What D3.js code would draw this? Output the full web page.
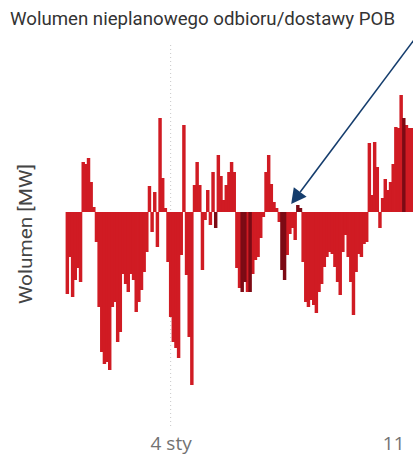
<!DOCTYPE html>
<html>
<head>
<meta charset="utf-8">
<script src="https://cdn.jsdelivr.net/npm/d3@7"></script>
<style>
  html, body { margin: 0; padding: 0; background: #fff; overflow: hidden; }
  svg { display: block; }
</style>
</head>
<body>
<div id="chart"></div>
<script>
// ---------------- DATA ----------------
const chartTitle = "Wolumen nieplanowego odbioru/dostawy POB";
const yLabel = "Wolumen [MW]";

// 2-hour intervals starting at this timestamp
const startTime = new Date(2023, 11, 31, 17, 0);
const stepHours = 2;

// Unplanned offtake/delivery volume [MW], one value per 2-hour interval
const volume = [
  -82, -45, -85, -68, -56, -70,  50,  48,  54,  30,
    5, -30, -95,-140,-152,-150,-158, -95, -90,-130,
 -120, -62, -72, -80, -62, -68,-100, -90, -78, -60,
  -40,  26, -20,  20, -35,  94,  34,   4, -50,-105,
 -130,-136,-146, -43,  87, -63,-125,-173,  27,  50,
   27, -58,  -8,  22, -13,  40, -16,  57,  36,  12,
   27,  40,  50,  40, -56, -76, -80, -70, -80, -80,
  -62, -48, -45, -26,  -5,  40,  57,  28,  10,   4,
  -10, -58, -68, -43, -22, -16, -28,   7,   4, -50,
  -90, -95, -88, -93,-101, -80, -72, -55, -45, -40,
  -42, -55, -70, -83, -40, -23, -45, -70,-103, -60,
  -42, -45, -32, -30,  69,  17,  70,  45, -16,  14,
   33,  22,  30,  48,  85,  84, 117,  94,  87,  84,
   84
];

// intervals belonging to the second (darker) series
const darkIntervals = [56, 66, 67, 69, 81, 82, 87, 88, 127];

// x-axis ticks
const tickDates = [new Date(2024, 0, 4), new Date(2024, 0, 11)];
const tickLabels = ["4 sty", "11"];

// annotation arrow target
const arrowTarget = { time: new Date(2024, 0, 7, 19, 0), value: 8 };

// ---------------- LAYOUT ----------------
const W = 413, H = 459;
const red = "#d01b23", darkRed = "#7c0a14", navy = "#153d6d";

const rows = volume.map((v, i) => ({
  t: d3.timeHour.offset(startTime, i * stepHours),
  t1: d3.timeHour.offset(startTime, (i + 1) * stepHours),
  v,
  dark: darkIntervals.includes(i)
}));

const svg = d3.select("#chart").append("svg")
  .attr("width", W).attr("height", H)
  .style("font-family", "Roboto, 'DejaVu Sans', sans-serif");

svg.append("rect").attr("width", W).attr("height", H).attr("fill", "#fff");

const x = d3.scaleTime()
  .domain([startTime, new Date(2024, 0, 12, 0, 0)])
  .range([66, 425]);

const y = d3.scaleLinear()
  .domain([-180, 120])
  .range([392, 92]);

// dotted gridline at first tick
svg.append("line")
  .attr("x1", x(tickDates[0])).attr("x2", x(tickDates[0]))
  .attr("y1", 45).attr("y2", 428)
  .attr("stroke", "#c8c8c8").attr("stroke-width", 1)
  .attr("stroke-dasharray", "1,3");

// bars (light series first, dark series on top)
const sorted = rows.slice().sort((a, b) => (a.dark === b.dark ? 0 : a.dark ? 1 : -1));
svg.append("g").selectAll("rect").data(sorted).join("rect")
  .attr("x", d => x(d.t) - 0.4)
  .attr("width", d => x(d.t1) - x(d.t) + 0.8)
  .attr("y", d => Math.min(y(d.v), y(0)))
  .attr("height", d => Math.abs(y(d.v) - y(0)))
  .attr("fill", d => d.dark ? darkRed : red);

// x axis
const xAxis = d3.axisBottom(x)
  .tickValues(tickDates)
  .tickFormat((d, i) => tickLabels[i])
  .tickSize(0)
  .tickPadding(0);

const gx = svg.append("g").attr("transform", "translate(0,0)").call(xAxis);
gx.select(".domain").remove();
gx.selectAll("text")
  .attr("y", 450).attr("dy", null)
  .style("font-family", "'Open Sans', Roboto, sans-serif")
  .style("font-size", "19px")
  .attr("fill", "#727272");

// title
svg.append("text")
  .attr("x", 10).attr("y", 25)
  .attr("textLength", 385).attr("lengthAdjust", "spacingAndGlyphs")
  .style("font-size", "18px")
  .attr("fill", "#333")
  .text(chartTitle);

// y label
svg.append("text")
  .attr("transform", "translate(32,234) rotate(-90)")
  .attr("text-anchor", "middle")
  .attr("textLength", 140).attr("lengthAdjust", "spacingAndGlyphs")
  .style("font-size", "18px")
  .attr("fill", "#444")
  .text(yLabel);

// annotation arrow
const tip = [x(arrowTarget.time), y(arrowTarget.value)];
const start = [tip[0] + 125, tip[1] - 167];
const dx = tip[0] - start[0], dy = tip[1] - start[1];
const len = Math.hypot(dx, dy);
const ux = dx / len, uy = dy / len;
const headLen = 15, headHalf = 8;
const base = [tip[0] - ux * headLen, tip[1] - uy * headLen];

svg.append("line")
  .attr("x1", start[0]).attr("y1", start[1])
  .attr("x2", base[0]).attr("y2", base[1])
  .attr("stroke", navy).attr("stroke-width", 1.6);

svg.append("path")
  .attr("d", `M${tip[0]},${tip[1]} L${base[0] - uy * headHalf},${base[1] + ux * headHalf} L${base[0] + uy * headHalf},${base[1] - ux * headHalf} Z`)
  .attr("fill", navy);
</script>
</body>
</html>
